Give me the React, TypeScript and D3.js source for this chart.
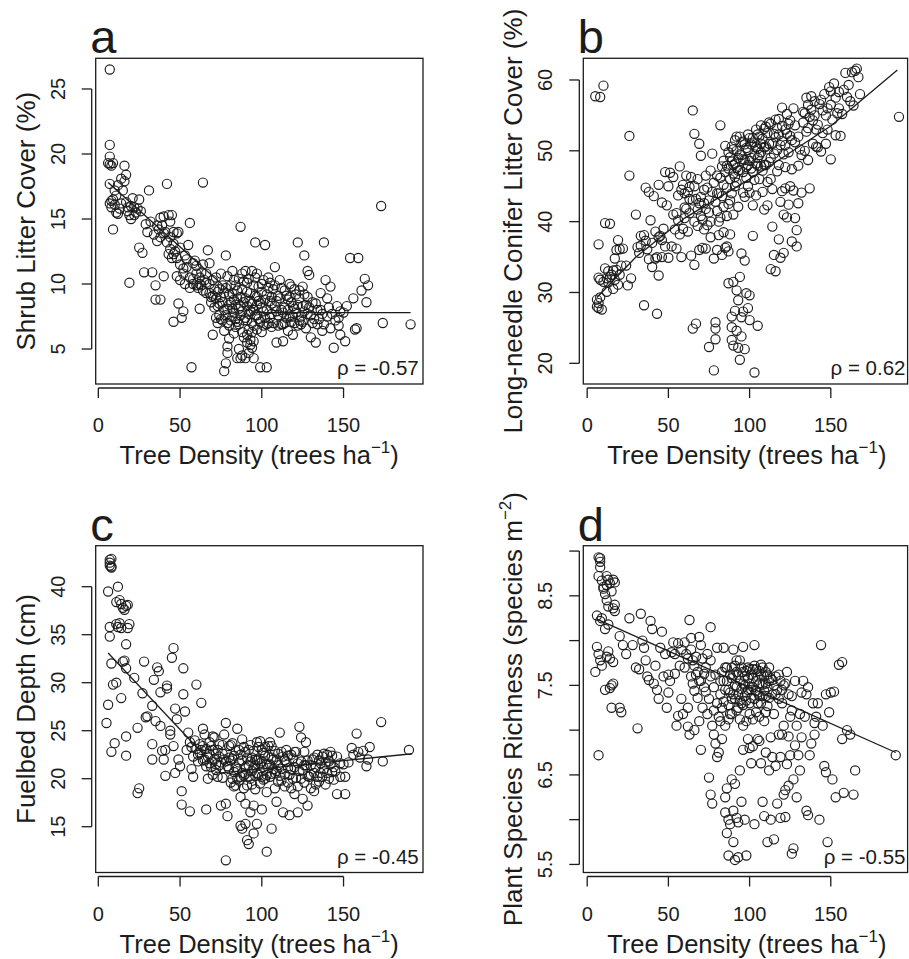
import React from "react";
import * as d3 from "d3";

type Pt = [number, number];

const xTicks = [0, 50, 100, 150];
const xTitle = "Tree Density (trees ha";

// Panel a: Shrub litter cover (%)
const shrubPoints: Pt[] = [
  [7, 26.5], [7, 20.7], [7, 19.8], [6, 19.3], [7, 19.2], [8, 19.1], [9, 19.3],
  [7, 17.7], [8, 16.4], [7, 16.2], [9, 16.5], [10, 16.1], [8, 15.9], [11, 16.8], [12, 17.6], [10, 17.2],
  [13, 15.8], [12, 15.4], [9, 14.2], [14, 16.2], [11, 15.5],
  [16, 19.1], [14, 18.1], [17, 18.4], [16, 17.9], [15, 17.2], [17, 16.3], [18, 15.6], [19, 15.3], [20, 15.0],
  [21, 16.6], [22, 15.9], [24, 15.8], [25, 16.5], [19, 10.1], [18, 15.9], [23, 15.5],
  [25, 12.8], [27, 12.4], [29, 14.6], [31, 17.2], [28, 10.9], [33, 10.9], [35, 9.9], [35, 8.8], [38, 8.8],
  [36, 13.3], [37, 14.2], [38, 15.1], [39, 14.5], [40, 15.2], [41, 14.0], [42, 17.7], [40, 10.6],
  [43, 15.3], [44, 14.8], [45, 15.3], [44, 13.6], [46, 13.1], [47, 12.5], [45, 12.0], [43, 12.3], [48, 13.9],
  [49, 14.0], [50, 12.8], [46, 14.0], [48, 10.6], [50, 10.3], [52, 11.2], [53, 12.2], [55, 13.0], [56, 14.7],
  [49, 8.5], [52, 7.9], [51, 7.4], [46, 7.1], [54, 11.9], [56, 9.7], [53, 10.0],
  [57, 3.6], [58, 10.0], [59, 11.8], [60, 11.4], [61, 9.7], [62, 10.5], [63, 10.9], [64, 17.8], [64, 11.5],
  [65, 10.3], [66, 9.3], [67, 12.6], [68, 10.0], [68, 11.6], [69, 8.6], [70, 10.3], [62, 8.1], [60, 10.8],
  [58, 11.6], [63, 9.9], [66, 10.8], [69, 9.0], [70, 6.1], [71, 9.6], [72, 8.9],
  [72, 10.5], [73, 8.3], [74, 7.6], [74, 9.6], [75, 10.8], [76, 8.6], [77, 9.3], [78, 12.2], [78, 7.6],
  [79, 10.6], [80, 8.4], [80, 6.8], [81, 9.9], [82, 11.0], [82, 7.5], [83, 8.8], [84, 9.9], [85, 7.1],
  [86, 8.1], [86, 10.4], [87, 14.4], [87, 9.0], [88, 7.9], [88, 6.3], [89, 8.6], [90, 11.0], [90, 7.4],
  [89, 10.2], [84, 6.7], [83, 7.8], [77, 6.4], [75, 7.3], [73, 7.0], [79, 5.2], [79, 4.7], [78, 3.9],
  [77, 3.3], [85, 4.3], [87, 4.3], [88, 4.5], [90, 4.3], [91, 5.5], [92, 4.7], [93, 5.7], [92, 6.5],
  [94, 5.1], [95, 4.3],
  [91, 9.4], [92, 10.4], [93, 8.7], [94, 11.0], [95, 9.9], [96, 13.2], [96, 7.6], [97, 8.4], [97, 6.5],
  [98, 9.8], [99, 7.1], [99, 3.6], [100, 8.2], [101, 10.3], [101, 6.8], [102, 13.0], [102, 7.4], [103, 9.2],
  [103, 3.6], [104, 10.5], [105, 8.7], [106, 7.7], [106, 6.7], [107, 9.6], [108, 11.3], [108, 8.3], [109, 5.5],
  [110, 7.6], [110, 9.1], [93, 7.9], [95, 6.8], [97, 10.8], [100, 6.3], [104, 7.0], [105, 10.1], [98, 8.7],
  [94, 8.5], [91, 7.2], [96, 9.1], [82, 9.3], [85, 8.9], [88, 9.6], [91, 8.3], [94, 7.0], [97, 7.6],
  [100, 9.4], [103, 8.0], [106, 9.0], [109, 7.9], [76, 9.9], [79, 8.1], [81, 7.2], [84, 8.4], [87, 7.6],
  [111, 10.3], [112, 8.0], [112, 6.9], [113, 5.6], [114, 9.5], [115, 7.4], [116, 8.8], [117, 10.0], [118, 7.1],
  [119, 8.3], [120, 9.6], [121, 7.8], [122, 13.2], [122, 6.8], [123, 8.9], [124, 7.5], [125, 9.8], [126, 12.2],
  [126, 7.9], [127, 6.6], [128, 11.0], [128, 9.0], [129, 10.7], [130, 5.9], [130, 7.6], [131, 8.6], [132, 7.3],
  [133, 5.5], [134, 8.0], [135, 7.3], [136, 9.3], [137, 7.7], [138, 13.2], [137, 6.4], [139, 10.3], [115, 9.1],
  [118, 8.6], [120, 8.1], [124, 6.9], [116, 6.4], [119, 6.1], [113, 6.9], [125, 7.1], [114, 8.2], [117, 7.5],
  [121, 9.2], [123, 7.2], [127, 8.4],
  [140, 8.9], [141, 8.2], [142, 9.8], [142, 6.6], [143, 7.7], [144, 5.1], [145, 7.2], [146, 8.3], [147, 7.4],
  [148, 6.1], [150, 7.8], [151, 5.6], [152, 8.3], [154, 12.0], [156, 8.9], [157, 6.5], [158, 6.6], [159, 12.0],
  [161, 9.5], [163, 10.4], [164, 8.6], [165, 9.9], [173, 16.0], [174, 7.0], [191, 6.9], [140, 7.5], [138, 6.9],
  [148, 7.9], [147, 6.8],
  [71, 8.2], [72, 7.4], [73, 9.4], [74, 8.5], [75, 9.0], [76, 7.2], [77, 8.0], [78, 9.7], [79, 7.0], [80, 9.2],
  [81, 8.6], [82, 8.1], [83, 10.3], [84, 7.3], [85, 9.5], [86, 6.9], [87, 8.3], [88, 10.8], [89, 7.2], [90, 8.9],
  [91, 10.1], [92, 7.7], [93, 9.3], [94, 6.3], [95, 8.0], [96, 10.5], [97, 9.0], [98, 7.3], [99, 8.5], [100, 10.0],
  [101, 7.9], [102, 8.8], [103, 6.9], [104, 9.7], [105, 7.4], [106, 8.5], [107, 7.0], [108, 9.9], [109, 8.7],
  [110, 6.8], [111, 8.9], [112, 9.7], [113, 7.8], [114, 7.0], [116, 8.0], [117, 9.0], [118, 9.8], [119, 7.5],
  [120, 7.0], [122, 8.4], [123, 9.5], [125, 8.3], [126, 9.2], [128, 7.7], [129, 8.2], [131, 7.0], [133, 8.5],
  [134, 6.9], [136, 8.0], [89, 5.9], [91, 6.1], [93, 5.3], [95, 5.6], [86, 5.0], [83, 6.2], [80, 5.8],
  [20, 16.0], [22, 15.3], [26, 15.6], [30, 14.0], [32, 14.8], [34, 13.8], [36, 14.5], [38, 13.6], [40, 13.9],
  [42, 13.2], [44, 12.7], [46, 12.3], [48, 12.0], [50, 11.5], [52, 10.8], [54, 11.3], [56, 10.5], [58, 10.4],
  [60, 9.9], [62, 10.0], [64, 9.5], [66, 10.1], [68, 9.3], [70, 9.1],
];
const shrubFit: Pt[] = [[6, 17.8], [95, 7.8], [191, 7.8]];
const shrubTicks = [5, 10, 15, 20, 25];
const shrubTickLabels = ["5", "10", "15", "20", "25"];

// Panel b: Long-needle conifer litter cover (%)
const coniferPoints: Pt[] = [
  [5, 57.7], [8, 57.6], [10, 59.2],
  [6, 29], [7, 28.5], [8, 29.3], [6, 28], [7, 27.8], [9, 27.6], [8, 31.8], [7, 32.1], [10, 31.5], [12, 32],
  [11, 33.4], [13, 31.4], [14, 32.2], [12, 30.1], [15, 32.5], [16, 33.1], [17, 31.8], [18, 33.2], [19, 31.1],
  [20, 32.5], [17, 34.8], [18, 36.0], [19, 37.4], [20, 36.1], [11, 39.8], [14, 39.7], [7, 36.8], [21, 33.8],
  [24, 33.8], [25, 31.0], [27, 32.0], [26, 46.5], [26, 52.1], [16, 30.5], [13, 33.0], [22, 36.2],
  [30, 41.0], [31, 36.4], [32, 35.6], [33, 36.6], [35, 28.2], [35, 38.1], [36, 44.8], [37, 36.1], [38, 44.2],
  [39, 40.2], [40, 37.0], [41, 43.6], [40, 33.6], [42, 34.8], [43, 35.0], [43, 27.0], [44, 32.4], [44, 45.2],
  [45, 38.0], [46, 37.4], [46, 42.7], [47, 39.0], [48, 36.5], [48, 47.0], [49, 42.3], [50, 34.9], [50, 45.0],
  [51, 46.9], [52, 36.5], [53, 41.0], [53, 46.3], [54, 38.9], [55, 36.2], [55, 41.2], [42, 38.6], [44, 37.8],
  [46, 35.0], [38, 34.7], [36, 37.3], [33, 38.0],
  [56, 43.7], [57, 47.8], [58, 35.0], [58, 44.5], [59, 39.0], [60, 42.0], [60, 40.5], [61, 46.5], [62, 44.2],
  [62, 38.6], [63, 41.2], [64, 35.2], [64, 46.3], [65, 24.9], [65, 55.7], [66, 52.4], [66, 40.0], [66, 33.9],
  [67, 43.2], [67, 25.6], [68, 41.7], [68, 46.0], [69, 36.0], [69, 51.0], [70, 43.5], [70, 49.3], [71, 40.3],
  [71, 36.3], [72, 38.9], [72, 42.6], [73, 36.2], [73, 46.5], [74, 44.8], [74, 39.5], [75, 22.3], [75, 41.3],
  [76, 47.2], [76, 37.8], [77, 49.6], [77, 44.2], [78, 34.8], [78, 19.0], [79, 24.9], [79, 25.8], [79, 23.4],
  [59, 45.2], [63, 44.9], [61, 41.8], [68, 39.4], [70, 40.8], [73, 41.8], [65, 43.0], [57, 38.2], [56, 40.2],
  [80, 36.0], [80, 41.5], [80, 46.5], [81, 38.1], [81, 44.0], [82, 53.6], [82, 40.6], [83, 47.8], [83, 35.3],
  [84, 42.1], [84, 45.2], [85, 36.3], [85, 50.7], [86, 44.8], [86, 40.8], [87, 35.8], [87, 31.3], [87, 47.5],
  [88, 49.1], [88, 38.2], [89, 23.3], [89, 25.1], [89, 26.6], [89, 44.0], [90, 41.0], [90, 46.8], [90, 22.5],
  [90, 31.5], [91, 51.5], [91, 27.4], [91, 48.2], [92, 24.6], [92, 30.3], [92, 45.5], [92, 50.0], [93, 42.1],
  [93, 28.9], [93, 22.2], [94, 20.5], [94, 32.2], [94, 47.3], [94, 52.0], [95, 26.5], [95, 35.5], [95, 49.4],
  [95, 23.8], [96, 27.3], [96, 44.1], [96, 51.3], [97, 34.5], [97, 48.7], [97, 22.0], [98, 29.9], [98, 46.2],
  [98, 50.4], [99, 27.8], [99, 52.3], [99, 45.0], [100, 29.6], [100, 26.1], [100, 48.6], [100, 44.1],
  [101, 50.9], [101, 47.5], [102, 42.3], [102, 51.8], [102, 38.0], [103, 18.7], [103, 49.5], [103, 45.9],
  [104, 53.0], [104, 43.7], [105, 25.3], [105, 47.9], [105, 50.3], [86, 36.5], [84, 38.5], [88, 43.0],
  [83, 43.6], [91, 45.0], [97, 43.5], [99, 48.0], [93, 49.0], [81, 40.0], [85, 47.0], [87, 42.5], [89, 48.5],
  [90, 50.2], [92, 47.6], [96, 47.0],
  [106, 52.0], [106, 46.0], [107, 49.8], [107, 53.6], [108, 44.2], [108, 47.2], [109, 50.5], [109, 41.7],
  [110, 53.4], [110, 48.0], [111, 42.3], [111, 45.6], [112, 51.0], [112, 54.0], [113, 33.3], [113, 49.0],
  [114, 39.3], [114, 44.6], [115, 35.3], [115, 52.4], [116, 33.0], [116, 54.4], [117, 47.1], [117, 50.1],
  [118, 37.5], [118, 52.3], [119, 34.9], [119, 42.8], [120, 44.3], [120, 51.4], [120, 56.1], [121, 35.6],
  [121, 41.0], [122, 44.7], [122, 47.7], [122, 53.0], [123, 40.6], [123, 55.2], [124, 42.4], [124, 49.8],
  [125, 45.0], [125, 52.1], [126, 37.2], [126, 47.4], [127, 44.4], [127, 56.0], [128, 40.5], [128, 51.2],
  [129, 36.5], [129, 38.8], [130, 42.6], [130, 47.9], [118, 48.0], [113, 46.0], [111, 50.2], [109, 48.0],
  [107, 51.0], [105, 49.0], [104, 48.2], [121, 49.5], [124, 53.8],
  [131, 50.2], [132, 44.1], [133, 54.0], [134, 55.3], [135, 57.5], [135, 52.7], [136, 48.7], [137, 44.7],
  [137, 54.8], [138, 57.7], [139, 51.0], [140, 55.0], [141, 50.6], [142, 53.7], [143, 56.6], [144, 49.9],
  [145, 55.7], [146, 58.0], [147, 51.0], [148, 53.0], [149, 59.0], [150, 48.8], [150, 58.4], [151, 54.4],
  [152, 59.5], [153, 52.2], [154, 55.3], [155, 56.0], [156, 52.1], [158, 58.6], [159, 61.0], [160, 57.6],
  [161, 59.3], [163, 61.1], [164, 56.4], [165, 61.3], [166, 61.6], [167, 60.4], [168, 58.0], [192, 54.8],
  [132, 49.4], [134, 50.0], [136, 56.5], [139, 54.3], [142, 50.5], [145, 52.5], [148, 56.0], [162, 57.0],
  [157, 55.2],
  [86, 47.9], [87, 49.8], [88, 46.0], [89, 50.6], [90, 48.0], [91, 46.3], [92, 52.0], [93, 47.2], [94, 49.5],
  [95, 51.2], [96, 48.8], [97, 50.9], [98, 47.7], [99, 50.1], [100, 51.8], [101, 49.0], [102, 47.0], [103, 51.2],
  [104, 50.5], [105, 52.3], [106, 49.4], [107, 47.8], [108, 51.7], [109, 53.1], [110, 50.6], [111, 52.5],
  [112, 48.4], [113, 53.8], [114, 51.0], [115, 49.6], [116, 51.9], [117, 53.2], [118, 54.5], [119, 50.8],
  [120, 53.5], [122, 50.8], [123, 52.4], [125, 54.3], [126, 51.5], [128, 53.6], [130, 52.0], [133, 55.5],
  [136, 53.2], [138, 55.8], [140, 57.0], [141, 53.0], [144, 57.2], [147, 55.0], [150, 56.5], [153, 57.5],
  [155, 58.3], [75, 43.0], [78, 45.5], [79, 42.8], [80, 44.0], [82, 46.2], [84, 48.6], [76, 40.0], [72, 44.5],
  [69, 42.6], [66, 45.0], [63, 43.2], [60, 44.0],
];
const coniferFit: Pt[] = [[6, 29.3], [30, 35.0], [60, 40.5], [100, 46.0], [150, 53.5], [191, 61.4]];
const coniferTicks = [20, 30, 40, 50, 60];
const coniferTickLabels = ["20", "30", "40", "50", "60"];

// Panel c: Fuelbed depth (cm)
const fuelPoints: Pt[] = [
  [7, 42.8], [7, 42.5], [8, 42.1], [7, 42.2], [8, 42.9], [8, 42.0],
  [6, 39.5], [11, 38.4], [12, 40.0], [13, 38.6], [14, 38.2], [15, 37.8], [17, 38.0], [18, 38.1], [16, 37.6],
  [11, 36.1], [12, 35.8], [13, 36.2], [14, 35.7], [7, 35.8], [7, 34.8], [18, 35.7], [19, 36.1], [17, 34.0],
  [8, 32.0], [15, 32.2], [16, 32.3], [17, 31.5], [22, 30.5], [9, 29.8], [11, 30.0], [14, 28.4], [6, 27.7],
  [5, 25.8], [10, 23.7], [8, 22.8], [17, 24.4], [17, 22.4], [24, 18.5], [25, 19.0], [24, 25.3], [27, 28.9],
  [29, 26.4], [30, 26.5], [33, 27.6], [33, 23.6], [33, 22.0], [28, 32.2], [34, 30.3], [35, 26.0], [36, 31.6],
  [37, 31.2], [38, 25.5], [38, 29.0], [39, 22.9], [40, 22.0], [41, 23.0], [41, 20.3], [42, 29.7], [42, 29.4],
  [44, 25.0], [44, 24.6], [45, 32.6], [46, 33.6], [46, 23.4], [47, 20.6], [47, 27.3], [48, 26.2], [49, 22.0],
  [50, 21.3], [51, 18.7], [51, 17.3], [52, 31.5], [52, 28.8], [53, 27.0], [54, 23.0], [55, 24.8], [56, 23.8],
  [56, 16.6], [57, 21.0], [58, 20.2], [60, 29.8], [61, 22.5], [62, 23.6], [63, 27.9], [64, 25.2], [65, 24.6],
  [66, 16.8], [67, 20.0], [68, 21.6], [69, 23.4], [70, 24.4], [71, 22.0], [72, 20.9], [73, 23.0], [74, 21.4],
  [75, 17.2], [76, 22.6], [77, 24.6], [78, 25.8], [78, 11.5], [78, 17.4], [79, 16.1], [80, 21.0], [81, 23.5],
  [82, 20.0], [83, 22.4], [84, 19.3], [85, 25.2], [86, 21.7], [87, 18.1], [87, 15.1], [88, 14.8], [88, 24.1],
  [89, 20.3], [90, 22.8], [90, 17.4], [90, 15.3], [91, 13.6], [92, 13.2], [92, 21.4], [93, 16.5], [93, 23.5],
  [94, 19.4], [95, 17.2], [95, 14.3], [96, 22.0], [96, 18.9], [97, 15.3], [97, 23.8], [98, 20.4], [99, 21.6],
  [100, 16.8], [100, 23.0], [101, 19.9], [102, 22.4], [103, 12.4], [103, 18.6], [104, 21.1], [105, 23.8],
  [106, 20.5], [106, 14.8], [107, 22.0], [108, 19.0], [109, 17.6], [110, 21.4], [111, 24.8], [112, 22.8],
  [113, 16.5], [114, 20.5], [115, 21.8], [116, 19.6], [117, 16.2], [118, 22.5], [119, 20.0], [120, 18.4],
  [121, 22.8], [122, 16.5], [123, 25.4], [123, 20.8], [124, 24.3], [125, 17.9], [126, 21.4], [127, 23.8],
  [128, 17.2], [129, 20.2], [130, 19.0], [131, 22.0], [132, 18.7], [133, 21.2], [134, 22.5], [135, 19.7],
  [136, 20.6], [137, 22.3], [138, 21.0], [139, 19.4], [140, 22.5], [141, 20.0], [142, 21.5], [143, 22.4],
  [144, 19.9], [145, 20.8], [146, 18.4], [148, 21.6], [150, 21.5], [151, 18.4], [151, 20.2], [153, 21.7],
  [155, 23.2], [156, 22.5], [158, 24.7], [159, 22.8], [160, 22.2], [162, 22.9], [164, 21.3], [165, 22.0],
  [166, 23.3], [173, 25.9], [174, 21.8], [190, 23.0],
  [62, 22.7], [64, 21.9], [66, 23.1], [67, 22.3], [69, 21.2], [70, 20.4], [72, 22.6], [73, 20.2], [74, 23.6],
  [75, 21.7], [76, 20.1], [77, 22.0], [79, 21.3], [80, 23.4], [81, 19.6], [82, 22.1], [83, 20.7], [84, 22.9],
  [85, 21.0], [86, 19.8], [87, 22.5], [88, 20.6], [89, 23.3], [90, 21.2], [91, 19.3], [92, 23.0], [93, 20.0],
  [94, 22.2], [95, 21.1], [96, 20.3], [97, 21.9], [98, 23.3], [99, 19.5], [100, 21.8], [101, 22.7], [102, 20.0],
  [103, 21.5], [104, 23.4], [105, 20.2], [106, 22.2], [107, 21.0], [108, 22.9], [109, 20.8], [110, 19.7],
  [112, 21.0], [113, 22.3], [114, 19.2], [115, 23.0], [116, 21.1], [117, 20.4], [118, 19.0], [119, 22.1],
  [120, 21.2], [121, 20.1], [122, 19.2], [124, 21.8], [125, 20.9], [126, 19.6], [127, 21.4], [128, 20.3],
  [130, 21.4], [132, 20.6], [133, 19.4], [135, 21.9], [137, 20.2], [139, 21.7], [141, 21.8], [143, 20.7],
  [57, 23.3], [58, 22.3], [59, 24.0], [60, 23.1], [61, 21.8], [63, 23.0], [65, 22.0], [68, 23.8], [71, 24.3],
  [64, 23.4], [66, 21.3], [68, 22.6], [70, 23.0], [72, 21.5], [74, 22.3], [76, 23.5], [78, 21.8], [80, 22.2],
  [82, 23.7], [84, 21.2], [85, 20.0], [86, 23.0], [88, 21.9], [89, 19.0], [90, 20.5], [91, 22.2], [92, 20.2],
  [93, 21.8], [94, 20.8], [95, 22.9], [96, 21.4], [97, 20.6], [98, 22.0], [99, 23.9], [100, 20.2], [101, 21.2],
  [102, 23.3], [103, 20.4], [104, 22.3], [105, 21.5], [106, 23.4], [108, 20.6], [109, 21.9], [110, 22.6],
  [111, 20.3], [112, 19.8], [114, 21.9], [116, 22.4], [118, 21.0], [120, 22.8], [122, 21.6], [124, 20.0],
  [126, 22.8], [128, 21.9], [130, 20.4], [132, 22.2], [134, 20.2], [136, 21.6], [138, 22.6], [140, 20.6],
  [142, 22.8], [144, 21.2], [146, 22.3], [148, 20.2], [87, 20.2], [83, 19.2], [81, 21.9],
];
const fuelFit: Pt[] = [[6, 33.1], [75, 20.6], [192, 22.6]];
const fuelTicks = [15, 20, 25, 30, 35, 40];
const fuelTickLabels = ["15", "20", "25", "30", "35", "40"];

// Panel d: Plant species richness (species m^-2)
const richPoints: Pt[] = [
  [7, 8.93], [8, 8.92], [8, 8.88], [8, 8.82], [7, 8.72], [9, 8.67], [10, 8.60], [11, 8.52], [12, 8.72],
  [13, 8.68], [14, 8.64], [16, 8.68], [17, 8.65], [12, 8.45], [13, 8.38], [15, 8.55], [17, 8.40], [17, 8.33],
  [16, 8.36], [12, 8.62], [10, 8.58], [6, 8.28], [8, 8.22], [9, 8.25], [11, 8.13], [13, 8.18], [6, 7.93],
  [7, 7.85], [8, 7.78], [9, 7.72], [12, 7.82], [13, 7.88], [14, 7.80], [16, 7.76], [5, 7.65], [11, 7.45],
  [14, 7.47], [15, 7.50], [16, 7.52], [15, 7.25], [20, 7.25], [21, 7.20], [7, 6.72], [20, 8.05], [22, 7.95],
  [24, 7.85], [26, 8.25], [28, 7.95], [30, 7.70], [31, 7.02], [33, 8.30], [32, 7.68], [34, 8.00], [35, 7.92],
  [36, 7.78], [37, 7.60], [38, 7.56], [39, 8.22], [40, 8.13], [41, 7.52], [42, 7.72], [43, 7.45], [44, 7.35],
  [45, 7.92], [46, 8.10], [47, 7.60], [48, 7.85], [49, 7.25], [50, 7.42], [51, 7.55], [52, 7.87], [53, 7.98],
  [54, 7.63], [55, 7.05], [56, 7.97], [56, 7.16], [57, 7.72], [58, 7.35], [59, 7.18], [60, 7.98], [61, 7.85],
  [62, 7.25], [62, 7.04], [63, 6.95], [63, 8.23], [64, 8.03], [64, 7.60], [65, 7.78], [66, 7.44], [66, 7.00],
  [67, 7.82], [68, 7.36], [69, 8.04], [69, 7.10], [70, 6.78], [70, 7.95], [71, 7.25], [72, 7.63], [73, 7.43],
  [74, 7.85], [74, 7.18], [75, 6.47], [76, 8.15], [76, 7.60], [76, 6.28], [77, 6.18], [77, 7.05], [78, 6.95],
  [78, 7.48], [79, 6.85], [80, 6.70], [80, 7.92], [80, 7.30], [81, 6.75], [82, 7.10], [82, 7.55], [83, 6.90],
  [84, 7.92], [84, 7.32], [85, 6.25], [85, 6.08], [85, 7.70], [86, 6.35], [86, 5.85], [87, 5.60], [87, 6.00],
  [87, 7.45], [88, 7.18], [88, 5.95], [89, 6.45], [89, 7.58], [90, 5.75], [90, 6.10], [90, 7.90], [91, 5.55],
  [91, 6.40], [91, 7.35], [92, 6.02], [92, 7.65], [93, 5.58], [93, 5.97], [93, 7.25], [94, 6.55], [94, 7.78],
  [95, 6.20], [95, 7.46], [96, 7.93], [96, 7.05], [96, 6.78], [97, 7.60], [97, 6.00], [98, 5.60], [98, 7.33],
  [99, 7.70], [99, 6.90], [100, 7.52], [100, 6.80], [101, 7.45], [101, 6.63], [102, 6.82], [102, 7.68],
  [103, 5.95], [103, 7.95], [104, 7.20], [105, 7.60], [105, 6.90], [106, 6.88], [106, 7.38], [107, 6.63],
  [107, 7.73], [108, 7.51], [108, 6.20], [109, 7.10], [109, 6.04], [110, 7.65], [110, 6.75], [111, 5.75],
  [111, 7.27], [112, 6.55], [112, 7.55], [113, 6.92], [113, 6.00], [114, 7.40], [114, 6.70], [115, 7.18],
  [115, 5.78], [116, 6.60], [116, 7.60], [117, 6.18], [118, 6.95], [118, 7.35], [119, 6.70], [119, 6.02],
  [120, 6.95], [120, 7.45], [121, 6.28], [121, 7.05], [122, 6.33], [122, 6.03], [123, 7.65], [123, 6.62],
  [124, 6.93], [124, 6.38], [125, 6.72], [125, 7.15], [126, 5.62], [126, 7.38], [127, 5.68], [127, 6.45],
  [128, 6.83], [128, 7.55], [129, 6.25], [129, 7.05], [130, 6.72], [131, 7.18], [131, 6.55], [132, 7.42],
  [132, 6.92], [133, 7.55], [134, 7.15], [135, 6.10], [135, 7.40], [136, 6.05], [136, 7.48], [137, 6.72],
  [138, 6.85], [139, 7.30], [140, 7.08], [140, 6.95], [141, 7.15], [142, 7.30], [143, 6.00], [144, 7.95],
  [145, 7.05], [146, 6.60], [147, 6.53], [147, 7.40], [148, 5.75], [149, 7.20], [150, 7.42], [151, 6.45],
  [152, 7.43], [153, 6.25], [155, 7.73], [157, 7.76], [157, 6.90], [158, 6.30], [160, 7.00], [162, 6.95],
  [164, 6.28], [165, 6.55], [190, 6.72],
  [88, 7.62], [90, 7.40], [91, 7.72], [92, 7.48], [93, 7.62], [94, 7.33], [95, 7.70], [96, 7.52], [97, 7.38],
  [98, 7.66], [99, 7.45], [100, 7.30], [101, 7.62], [102, 7.48], [103, 7.35], [104, 7.55], [105, 7.42],
  [106, 7.66], [107, 7.30], [108, 7.70], [109, 7.44], [110, 7.52], [111, 7.62], [112, 7.36], [113, 7.58],
  [115, 7.50], [117, 7.45], [119, 7.55], [121, 7.50], [84, 7.55], [86, 7.70], [87, 7.28], [89, 7.35],
  [92, 7.22], [96, 7.28], [100, 7.18], [104, 7.68], [75, 7.35], [72, 7.48], [70, 7.55], [68, 7.65], [66, 7.72],
  [64, 7.90], [62, 7.80], [60, 7.70], [58, 7.90], [54, 7.85], [50, 7.62],
  [82, 7.40], [83, 7.65], [85, 7.45], [86, 7.55], [88, 7.42], [89, 7.70], [90, 7.62], [91, 7.50], [92, 7.78],
  [93, 7.40], [94, 7.55], [95, 7.30], [96, 7.65], [97, 7.50], [98, 7.42], [99, 7.58], [100, 7.68], [101, 7.36],
  [102, 7.58], [103, 7.72], [104, 7.44], [105, 7.30], [106, 7.52], [107, 7.62], [108, 7.38], [109, 7.60],
  [110, 7.38], [111, 7.48], [112, 7.70], [114, 7.56], [116, 7.40], [118, 7.62], [120, 7.30], [122, 7.52],
  [124, 7.40], [126, 7.22], [78, 7.22], [79, 7.62], [81, 7.15], [83, 7.25], [85, 7.05], [87, 7.12], [89, 7.18],
  [94, 7.12], [98, 7.10], [102, 7.12], [106, 7.15], [110, 7.20], [76, 7.78], [73, 7.70], [71, 7.80], [69, 7.55],
  [67, 7.62], [65, 7.52],
];
const richFit: Pt[] = [[6, 8.24], [190, 6.75]];
const richTicks = [5.5, 6, 6.5, 7, 7.5, 8, 8.5, 9];
const richTickLabels = ["5.5", "", "6.5", "", "7.5", "", "8.5", ""];

const FONT = "'Liberation Sans', Arial, Helvetica, sans-serif";
const INK = "#1c1c1c";

type PanelSpec = {
  letter: string;
  points: Pt[];
  fit: Pt[];
  yTicks: number[];
  yTickLabels: string[];
  yDomain: [number, number];
  xDomain: [number, number];
  left: number;
  top: number;
  width: number;
  height: number;
  yTitle: string;
  ySup?: string;
  rho: string;
};

function Panel({ p }: { p: PanelSpec }) {
  const x = d3.scaleLinear().domain(p.xDomain).range([p.left, p.left + p.width]);
  const y = d3.scaleLinear().domain(p.yDomain).range([p.top + p.height, p.top]);
  const bottom = p.top + p.height;
  const axY = bottom + 4;
  const axX = p.left - 4;
  const line = d3.line<Pt>().x((d) => x(d[0])).y((d) => y(d[1]));
  const yMid = p.top + p.height / 2;
  const xMid = p.left + 163.5;
  const yMin = d3.min(p.yTicks) as number;
  const yMax = d3.max(p.yTicks) as number;
  return (
    <g>
      <rect x={p.left} y={p.top} width={p.width} height={p.height} fill="none" stroke={INK} strokeWidth={1.3} />
      {p.points.map((d, i) => (
        <circle key={i} cx={x(d[0])} cy={y(d[1])} r={4.6} fill="none" stroke={INK} strokeWidth={1.15} />
      ))}
      <path d={line(p.fit) || ""} fill="none" stroke={INK} strokeWidth={1.3} />
      {/* x axis */}
      <line x1={x(0)} x2={x(150)} y1={axY} y2={axY} stroke={INK} strokeWidth={1.3} />
      {xTicks.map((t) => (
        <g key={t}>
          <line x1={x(t)} x2={x(t)} y1={axY} y2={axY + 10} stroke={INK} strokeWidth={1.3} />
          <text x={x(t)} y={bottom + 48} textAnchor="middle" fontSize={20} fill={INK} fontFamily={FONT}>
            {t}
          </text>
        </g>
      ))}
      <text x={xMid} y={bottom + 80} textAnchor="middle" fontSize={25.5} fill={INK} fontFamily={FONT}>
        {xTitle}
        <tspan fontSize={17} dy={-11}>−1</tspan>
        <tspan dy={11}>)</tspan>
      </text>
      {/* y axis */}
      <line x1={axX} x2={axX} y1={y(yMin)} y2={y(yMax)} stroke={INK} strokeWidth={1.3} />
      {p.yTicks.map((t, i) => (
        <g key={t}>
          <line x1={axX} x2={axX - 10} y1={y(t)} y2={y(t)} stroke={INK} strokeWidth={1.3} />
          {p.yTickLabels[i] ? (
            <text
              transform={`translate(${p.left - 31},${y(t)}) rotate(-90)`}
              textAnchor="middle"
              fontSize={20}
              fill={INK}
              fontFamily={FONT}
            >
              {p.yTickLabels[i]}
            </text>
          ) : null}
        </g>
      ))}
      <text
        transform={`translate(${p.left - 61},${yMid}) rotate(-90)`}
        textAnchor="middle"
        fontSize={26}
        fill={INK}
        fontFamily={FONT}
      >
        {p.yTitle}
        {p.ySup ? (
          <>
            <tspan fontSize={17} dy={-11}>{p.ySup}</tspan>
            <tspan dy={11}>)</tspan>
          </>
        ) : null}
      </text>
      <text x={p.left - 5.5} y={p.top - 5} fontSize={47} fill={INK} fontFamily={FONT}>
        {p.letter}
      </text>
      <text x={x(196)} y={bottom - 9} textAnchor="end" fontSize={20.5} fill={INK} fontFamily={FONT}>
        {p.rho}
      </text>
    </g>
  );
}

const panels: PanelSpec[] = [
  {
    letter: "a", points: shrubPoints, fit: shrubFit, yTicks: shrubTicks, yTickLabels: shrubTickLabels,
    yDomain: [2.31, 27.36], xDomain: [-1.6, 198.6], left: 95.7, top: 58.3, width: 327.3, height: 325.7,
    yTitle: "Shrub Litter Cover (%)", rho: "ρ = -0.57",
  },
  {
    letter: "b", points: coniferPoints, fit: coniferFit, yTicks: coniferTicks, yTickLabels: coniferTickLabels,
    yDomain: [17.08, 63.06], xDomain: [-2.4, 197.3], left: 583.3, top: 58.3, width: 324.3, height: 325.7,
    yTitle: "Long-needle Conifer Litter Cover (%)", rho: "ρ = 0.62",
  },
  {
    letter: "c", points: fuelPoints, fit: fuelFit, yTicks: fuelTicks, yTickLabels: fuelTickLabels,
    yDomain: [10.23, 44.27], xDomain: [-1.6, 198.6], left: 95.7, top: 545.7, width: 327.3, height: 326.8,
    yTitle: "Fuelbed Depth (cm)", rho: "ρ = -0.45",
  },
  {
    letter: "d", points: richPoints, fit: richFit, yTicks: richTicks, yTickLabels: richTickLabels,
    yDomain: [5.41, 9.06], xDomain: [-2.4, 197.3], left: 583.3, top: 545.7, width: 324.3, height: 326.8,
    yTitle: "Plant Species Richness (species m", ySup: "−2", rho: "ρ = -0.55",
  },
];

export default function App() {
  return (
    <svg
      width={909}
      height={959}
      viewBox="0 0 909 959"
      style={{ position: "absolute", left: 0, top: 0, background: "#fff" }}
    >
      <rect x={0} y={0} width={909} height={959} fill="#fff" />
      {panels.map((p) => (
        <Panel key={p.letter} p={p} />
      ))}
    </svg>
  );
}
